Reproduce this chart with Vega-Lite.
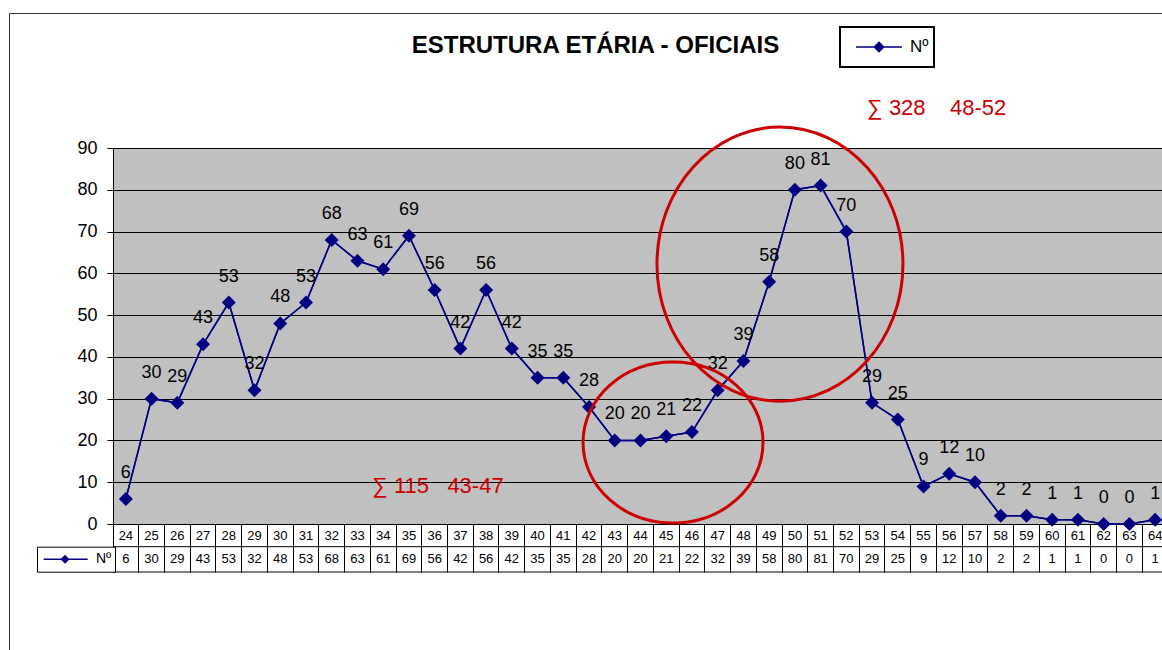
{
  "$schema": "https://vega.github.io/schema/vega-lite/v6.json",
  "autosize": {"type": "none"},
  "padding": {"left": 113, "top": 148, "right": 0, "bottom": 126},
  "width": 1049,
  "height": 376,
  "background": "white",
  "config": {"view": {"fill": "#c0c0c0", "stroke": null}, "font": "Liberation Sans"},
  "title": {"text": "ESTRUTURA ETÁRIA - OFICIAIS", "fontSize": 24, "fontWeight": "bold", "font": "Liberation Sans", "color": "black", "anchor": "middle", "frame": "group", "dx": -42, "offset": 0, "dy": 64, "baseline": "alphabetic"},
  "datasets": {
    "dados": [
      {"idade": 24, "N": 6, "serie": "Nº"}, {"idade": 25, "N": 30, "serie": "Nº"}, {"idade": 26, "N": 29, "serie": "Nº"},
      {"idade": 27, "N": 43, "serie": "Nº"}, {"idade": 28, "N": 53, "serie": "Nº"}, {"idade": 29, "N": 32, "serie": "Nº"},
      {"idade": 30, "N": 48, "serie": "Nº"}, {"idade": 31, "N": 53, "serie": "Nº"}, {"idade": 32, "N": 68, "serie": "Nº"},
      {"idade": 33, "N": 63, "serie": "Nº"}, {"idade": 34, "N": 61, "serie": "Nº"}, {"idade": 35, "N": 69, "serie": "Nº"},
      {"idade": 36, "N": 56, "serie": "Nº"}, {"idade": 37, "N": 42, "serie": "Nº"}, {"idade": 38, "N": 56, "serie": "Nº"},
      {"idade": 39, "N": 42, "serie": "Nº"}, {"idade": 40, "N": 35, "serie": "Nº"}, {"idade": 41, "N": 35, "serie": "Nº"},
      {"idade": 42, "N": 28, "serie": "Nº"}, {"idade": 43, "N": 20, "serie": "Nº"}, {"idade": 44, "N": 20, "serie": "Nº"},
      {"idade": 45, "N": 21, "serie": "Nº"}, {"idade": 46, "N": 22, "serie": "Nº"}, {"idade": 47, "N": 32, "serie": "Nº"},
      {"idade": 48, "N": 39, "serie": "Nº"}, {"idade": 49, "N": 58, "serie": "Nº"}, {"idade": 50, "N": 80, "serie": "Nº"},
      {"idade": 51, "N": 81, "serie": "Nº"}, {"idade": 52, "N": 70, "serie": "Nº"}, {"idade": 53, "N": 29, "serie": "Nº"},
      {"idade": 54, "N": 25, "serie": "Nº"}, {"idade": 55, "N": 9, "serie": "Nº"}, {"idade": 56, "N": 12, "serie": "Nº"},
      {"idade": 57, "N": 10, "serie": "Nº"}, {"idade": 58, "N": 2, "serie": "Nº"}, {"idade": 59, "N": 2, "serie": "Nº"},
      {"idade": 60, "N": 1, "serie": "Nº"}, {"idade": 61, "N": 1, "serie": "Nº"}, {"idade": 62, "N": 0, "serie": "Nº"},
      {"idade": 63, "N": 0, "serie": "Nº"}, {"idade": 64, "N": 1, "serie": "Nº"}
    ],
    "destaques": [
      {"faixa": "43-47", "soma": 115, "rotulo": "∑ 115\u00a0\u00a0\u00a043-47", "idade": 45, "N": 19.5, "rotulo_idade": 34, "rotulo_N": 9},
      {"faixa": "48-52", "soma": 328, "rotulo": "∑ 328\u00a0\u00a0\u00a0\u00a048-52", "idade": 49, "N": 62.2, "rotulo_idade": 53, "rotulo_N": 99.5}
    ]
  },
  "data": {"name": "dados"},
  "layer": [
    {
      "data": {"values": [{}]},
      "mark": {"type": "rule", "color": "black", "strokeWidth": 1},
      "encoding": {"y": {"datum": -5.43, "type": "quantitative", "scale": {"domain": [0, 90], "nice": false, "zero": true}}}
    },
    {
      "data": {"values": [{}]},
      "mark": {"type": "rule", "color": "black", "strokeWidth": 1},
      "encoding": {"y": {"datum": -11.49, "type": "quantitative", "scale": {"domain": [0, 90], "nice": false, "zero": true}}}
    },
    {
      "mark": {"type": "line", "strokeWidth": 1.5},
      "encoding": {
        "x": {"field": "idade", "type": "ordinal", "scale": {"type": "band", "range": [0, 1055], "paddingInner": 0, "paddingOuter": 0},
          "axis": {"orient": "bottom", "title": null, "grid": false, "domainColor": "black", "domainWidth": 1, "tickColor": "black", "tickWidth": 1, "tickSize": 48, "bandPosition": 0, "labelPadding": -37, "labelBaseline": "middle", "labelAlign": "center", "labelAngle": 0, "labelFontSize": 13, "labelColor": "black", "labelFont": "Liberation Sans", "labelOverlap": false, "labelBound": false, "labelFlush": false}},
        "y": {"field": "N", "type": "quantitative", "scale": {"domain": [0, 90], "nice": false, "zero": true},
          "axis": {"title": null, "values": [0, 10, 20, 30, 40, 50, 60, 70, 80, 90], "grid": true, "gridColor": "black", "gridOpacity": 1, "gridWidth": 1, "domainColor": "black", "tickColor": "black", "tickSize": 6, "labelPadding": 10, "labelFontSize": 18, "labelColor": "black", "labelFont": "Liberation Sans"}},
        "color": {"field": "serie", "type": "nominal", "scale": {"range": ["#000080"]},
          "legend": {"title": null, "orient": "none", "legendX": 727, "legendY": -121, "padding": 5, "strokeColor": "black", "fillColor": "white", "labelFontSize": 17, "labelFont": "Liberation Sans", "labelColor": "black", "labelOffset": 5, "symbolSize": 3364, "clipHeight": 30,
            "symbolType": "M-0.655,0L0.931,0M-0.022,0L0.138,-0.16L0.298,0L0.138,0.16Z",
            "encode": {"legend": {"update": {"strokeWidth": {"value": 2}}}, "symbols": {"update": {"shape": {"value": "M-0.655,0L0.931,0M-0.022,0L0.138,-0.16L0.298,0L0.138,0.16Z"}, "fill": {"value": "#000080"}, "stroke": {"value": "#000080"}, "strokeWidth": {"value": 1.5}, "opacity": {"value": 1}}}}}}
      }
    },
    {
      "mark": {"type": "line", "strokeWidth": 1.5},
      "encoding": {
        "x": {"field": "idade", "type": "ordinal"},
        "y": {"field": "N", "type": "quantitative", "scale": {"domain": [0, 90], "nice": false, "zero": true}},
        "color": {"field": "serie", "type": "nominal", "scale": {"range": ["#000080"]},
          "legend": {"title": null, "orient": "none", "legendX": -76, "legendY": 398.7, "padding": 3, "strokeColor": "black", "fillColor": "white", "labelFontSize": 14, "labelFont": "Liberation Sans", "labelColor": "black", "labelOffset": 6, "symbolSize": 2304, "clipHeight": 19,
            "symbolType": "M-0.888,0L0.946,0M-0.146,0L0,-0.146L0.146,0L0,0.146Z",
            "encode": {"legend": {"update": {"strokeWidth": {"value": 1}}}, "symbols": {"update": {"shape": {"value": "M-0.888,0L0.946,0M-0.146,0L0,-0.146L0.146,0L0,0.146Z"}, "fill": {"value": "#000080"}, "stroke": {"value": "#000080"}, "strokeWidth": {"value": 1.5}, "opacity": {"value": 1}}}}}}
      }
    },
    {
      "mark": {"type": "point", "shape": "diamond", "filled": true, "size": 196, "opacity": 1, "color": "#000080"},
      "encoding": {
        "x": {"field": "idade", "type": "ordinal"},
        "y": {"field": "N", "type": "quantitative", "scale": {"domain": [0, 90], "nice": false, "zero": true}}
      }
    },
    {
      "mark": {"type": "text", "fontSize": 18, "dy": -26, "baseline": "middle", "color": "black", "font": "Liberation Sans"},
      "encoding": {
        "x": {"field": "idade", "type": "ordinal"},
        "y": {"field": "N", "type": "quantitative", "scale": {"domain": [0, 90], "nice": false, "zero": true}},
        "text": {"field": "N", "type": "quantitative"},
        "opacity": {"datum": "moldura", "scale": {"range": [1, 1]},
          "legend": {"title": null, "orient": "none", "legendX": -104, "legendY": -135, "padding": 900, "strokeColor": "#333333", "symbolOpacity": 0, "labelOpacity": 0, "labelExpr": "''",
            "encode": {"legend": {"update": {"strokeWidth": {"value": 2}}}}}}
      }
    },
    {
      "mark": {"type": "text", "fontSize": 13, "baseline": "middle", "color": "black", "font": "Liberation Sans"},
      "encoding": {
        "x": {"field": "idade", "type": "ordinal"},
        "y": {"datum": -8.45, "type": "quantitative", "scale": {"domain": [0, 90], "nice": false, "zero": true}},
        "text": {"field": "N", "type": "quantitative"}
      }
    },
    {
      "data": {"name": "destaques"},
      "transform": [{"filter": "datum.faixa === '43-47'"}],
      "mark": {"type": "point", "shape": "M-1,0C-1,-0.494,-0.552,-0.894,0,-0.894C0.552,-0.894,1,-0.494,1,0C1,0.494,0.552,0.894,0,0.894C-0.552,0.894,-1,0.494,-1,0Z", "size": 32400, "filled": false, "color": "#cc0000", "strokeWidth": 3, "opacity": 1, "xOffset": 6.8},
      "encoding": {
        "x": {"field": "idade", "type": "ordinal"},
        "y": {"field": "N", "type": "quantitative", "scale": {"domain": [0, 90], "nice": false, "zero": true}}
      }
    },
    {
      "data": {"name": "destaques"},
      "transform": [{"filter": "datum.faixa === '48-52'"}],
      "mark": {"type": "point", "shape": "M-1,0C-1,-0.615,-0.552,-1.114,0,-1.114C0.552,-1.114,1,-0.615,1,0C1,0.615,0.552,1.114,0,1.114C-0.552,1.114,-1,0.615,-1,0Z", "size": 60516, "filled": false, "color": "#cc0000", "strokeWidth": 3, "opacity": 1, "xOffset": 10.8},
      "encoding": {
        "x": {"field": "idade", "type": "ordinal"},
        "y": {"field": "N", "type": "quantitative", "scale": {"domain": [0, 90], "nice": false, "zero": true}}
      }
    },
    {
      "data": {"name": "destaques"},
      "transform": [{"filter": "datum.faixa === '43-47'"}],
      "mark": {"type": "text", "fontSize": 22, "align": "left", "baseline": "middle", "color": "#cc0000", "font": "Liberation Sans", "dx": -11},
      "encoding": {
        "x": {"field": "rotulo_idade", "type": "ordinal"},
        "y": {"field": "rotulo_N", "type": "quantitative", "scale": {"domain": [0, 90], "nice": false, "zero": true}},
        "text": {"field": "rotulo"}
      }
    },
    {
      "data": {"name": "destaques"},
      "transform": [{"filter": "datum.faixa === '48-52'"}],
      "mark": {"type": "text", "fontSize": 22, "align": "left", "baseline": "middle", "color": "#cc0000", "font": "Liberation Sans", "dx": -5},
      "encoding": {
        "x": {"field": "rotulo_idade", "type": "ordinal"},
        "y": {"field": "rotulo_N", "type": "quantitative", "scale": {"domain": [0, 90], "nice": false, "zero": true}},
        "text": {"field": "rotulo"}
      }
    }
  ],
  "resolve": {"scale": {"color": "independent"}, "legend": {"color": "independent"}}
}
